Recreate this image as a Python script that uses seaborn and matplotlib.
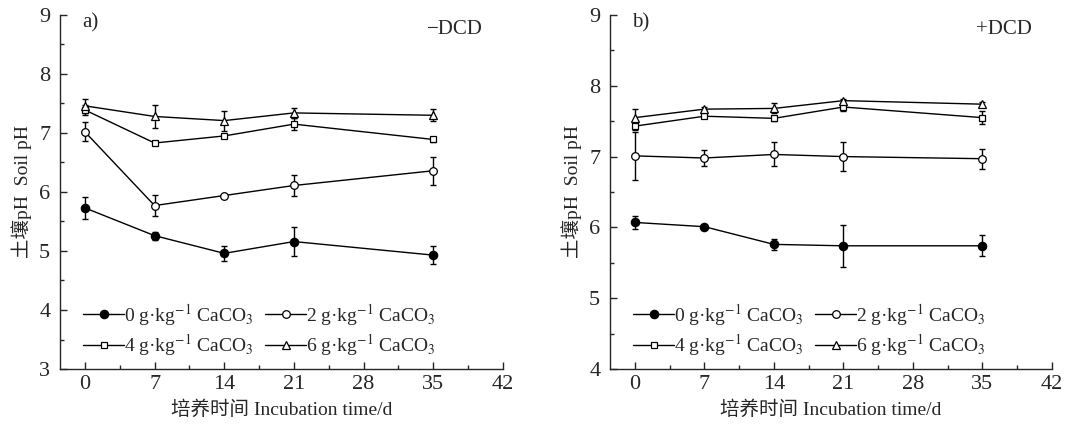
import numpy as np
import pandas as pd
import seaborn as sns
import matplotlib.pyplot as plt
from matplotlib.ticker import MultipleLocator

# Data
days = [0, 7, 14, 21, 35]
doses = ["0", "2", "4", "6"]

# a) -DCD
ph_a_0 = [5.73, 5.26, 4.96, 5.16, 4.93]
err_a_0 = [0.19, 0.07, 0.13, 0.25, 0.15]
ph_a_2 = [7.02, 5.77, 5.94, 6.11, 6.36]
err_a_2 = [0.16, 0.18, 0.03, 0.18, 0.24]
ph_a_4 = [7.39, 6.83, 6.95, 7.15, 6.89]
err_a_4 = [0.08, 0.03, 0.04, 0.10, 0.04]
ph_a_6 = [7.46, 7.28, 7.21, 7.34, 7.30]
err_a_6 = [0.12, 0.19, 0.17, 0.08, 0.10]

# b) +DCD
ph_b_0 = [6.07, 6.01, 5.76, 5.74, 5.74]
err_b_0 = [0.09, 0.02, 0.08, 0.30, 0.15]
ph_b_2 = [7.01, 6.98, 7.03, 7.00, 6.97]
err_b_2 = [0.34, 0.11, 0.17, 0.21, 0.14]
ph_b_4 = [7.43, 7.57, 7.54, 7.70, 7.55]
err_b_4 = [0.06, 0.03, 0.04, 0.06, 0.09]
ph_b_6 = [7.55, 7.67, 7.68, 7.79, 7.74]
err_b_6 = [0.12, 0.03, 0.07, 0.03, 0.03]

markers = {"0": "o", "2": "o", "4": "s", "6": "^"}
faces = {"0": "black", "2": "white", "4": "white", "6": "white"}
sizes = {"0": 6, "2": 5.5, "4": 4.5, "6": 5.5}

sns.set_style("ticks")
plt.rcParams['font.family'] = ['Liberation Serif', 'Noto Sans CJK SC']
plt.rcParams['mathtext.fontset'] = 'stix'
plt.rcParams['xtick.direction'] = 'in'
plt.rcParams['ytick.direction'] = 'in'


def build_frame(values, errors):
    rows = []
    for d, v, e in zip(doses, values, errors):
        for t, y, s in zip(days, v, e):
            rows.append({"day": t, "ph": y, "err": s, "dose": d})
    return pd.DataFrame(rows)


df_a = build_frame([ph_a_0, ph_a_2, ph_a_4, ph_a_6],
                   [err_a_0, err_a_2, err_a_4, err_a_6])
df_b = build_frame([ph_b_0, ph_b_2, ph_b_4, ph_b_6],
                   [err_b_0, err_b_2, err_b_4, err_b_6])

fig = plt.figure(figsize=(10.87, 4.24), dpi=100)
ax_a = fig.add_axes([0.0552, 0.1297, 0.4075, 0.835])
ax_b = fig.add_axes([0.5612, 0.1297, 0.4066, 0.835])


def draw_panel(ax, df, ylo, tag, label):
    for d in doses:
        sub = df[df["dose"] == d]
        ax.errorbar(sub["day"], sub["ph"], yerr=sub["err"], fmt="none",
                    ecolor="black", elinewidth=1.0, capsize=2.5, capthick=1.0,
                    zorder=2)
        sns.lineplot(data=sub, x="day", y="ph", ax=ax, color="black",
                     linewidth=1.0, marker=markers[d], markersize=sizes[d],
                     markerfacecolor=faces[d], markeredgecolor="black",
                     markeredgewidth=0.9, label=d + r" g·kg$^{-1}$ CaCO$_3$",
                     zorder=3)
    ax.set_xlim(-2.5, 42)
    ax.set_ylim(ylo, 9)
    ax.set_xticks([0, 7, 14, 21, 28, 35, 42])
    ax.set_yticks(np.arange(ylo, 10, 1))
    ax.xaxis.set_minor_locator(MultipleLocator(3.5))
    ax.yaxis.set_minor_locator(MultipleLocator(0.5))
    ax.tick_params(which="major", length=5, width=1, labelsize=16, pad=4)
    ax.tick_params(which="minor", length=3, width=1)
    ax.tick_params(axis="y", pad=7)
    sns.despine(ax=ax)
    for sp in ax.spines.values():
        sp.set_linewidth(1.0)
    ax.set_xlabel("培养时间 Incubation time/d", fontsize=14, labelpad=5)
    ax.set_ylabel("土壤pH  Soil pH", fontsize=14, labelpad=5)
    ax.text(0.05, 0.978, tag, transform=ax.transAxes, fontsize=15,
            va="center", ha="left")
    ax.text(0.955, 0.958, label, transform=ax.transAxes, fontsize=15,
            va="center", ha="right")
    # reference legend runs row-wise: 0, 2 / 4, 6
    h, l = ax.get_legend_handles_labels()
    order = [0, 2, 1, 3]
    ax.legend([h[i] for i in order], [l[i] for i in order],
              loc="lower left", bbox_to_anchor=(0.035, 0.008), ncol=2,
              frameon=False, fontsize=14, handlelength=2.1,
              handletextpad=0.0, columnspacing=0.6, labelspacing=0.25,
              borderaxespad=0.0)


draw_panel(ax_a, df_a, 3, "a)", "\u2212DCD")
draw_panel(ax_b, df_b, 4, "b)", "+DCD")

fig.savefig("out.png", dpi=100)
